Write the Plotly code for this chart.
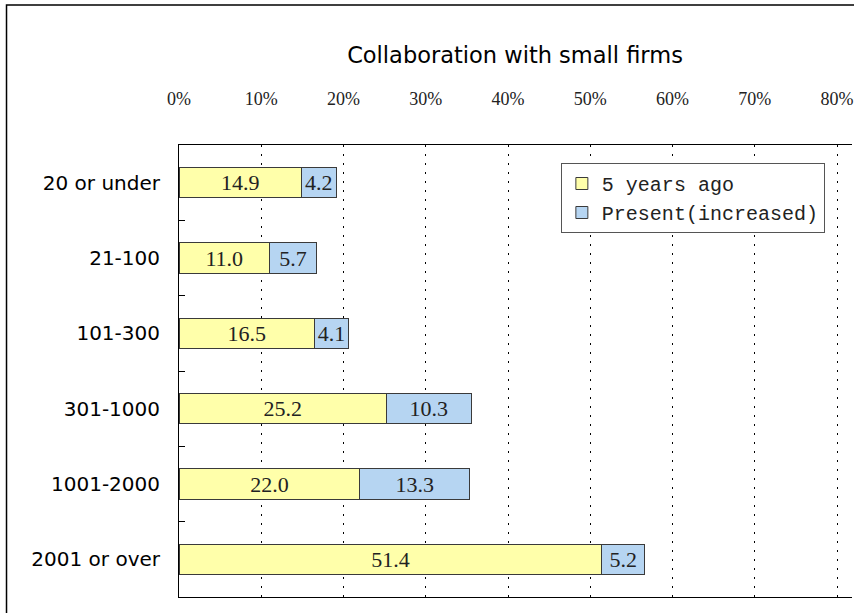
import plotly.graph_objects as go

categories = ["20 or under", "21-100", "101-300", "301-1000", "1001-2000", "2001 or over"]
five_years_ago = [14.9, 11.0, 16.5, 25.2, 22.0, 51.4]
present_increased = [4.2, 5.7, 4.1, 10.3, 13.3, 5.2]
x_ticks = [0, 10, 20, 30, 40, 50, 60, 70, 80]
x_tick_labels = [f"{v}%" for v in x_ticks]

W, H = 854, 613
L, R, T, B = 179, 0, 145, 16
pw, ph = W - L - R, H - T - B

def px_x(v):
    return (v - L) / pw

def px_y(v):
    return 1 - (v - T) / ph

fig = go.Figure()
fig.add_trace(go.Bar(
    y=categories, x=five_years_ago, name="5 years ago", orientation="h",
    marker=dict(color="#FFFFAA", line=dict(color="#3a3a3a", width=1)),
    texttemplate="%{x:.1f}", textposition="inside", insidetextanchor="middle",
    constraintext="none",
    textfont=dict(family="Liberation Serif", size=22, color="#222"),
    width=0.4,
))
fig.add_trace(go.Bar(
    y=categories, x=present_increased, name="Present(increased)", orientation="h",
    marker=dict(color="#B6D5F2", line=dict(color="#3a3a3a", width=1)),
    texttemplate="%{x:.1f}", textposition="inside", insidetextanchor="middle",
    constraintext="none",
    textfont=dict(family="Liberation Serif", size=22, color="#222"),
    width=0.4,
))

fig.update_layout(
    barmode="stack",
    width=W, height=H,
    margin=dict(l=L, r=R, t=T, b=B),
    paper_bgcolor="white", plot_bgcolor="white",
    title=dict(text="Collaboration with small firms", x=px_x(516), xref="paper",
               xanchor="center", y=1 - 55 / H, yref="container", yanchor="middle",
               font=dict(family="DejaVu Sans", size=22.5, color="black")),
    legend=dict(x=px_x(562), y=px_y(163), xanchor="left", yanchor="top",
                bgcolor="white", bordercolor="#555", borderwidth=1,
                font=dict(family="Liberation Mono", size=20, color="#222"),
                traceorder="normal", itemwidth=30, tracegroupgap=0),
    uniformtext=dict(mode="show", minsize=22),
    shapes=[dict(type="rect", xref="paper", yref="paper",
                 x0=px_x(6), x1=1.05, y0=px_y(640), y1=px_y(5),
                 line=dict(color="black", width=1.5), layer="below")],
)
fig.update_xaxes(
    side="top", range=[0, (W - L) / 8.25], tickmode="array",
    tickvals=x_ticks, ticktext=x_tick_labels,
    ticks="", ticklabelstandoff=32, ticklabeloverflow="allow",
    tickfont=dict(family="Liberation Serif", size=18, color="#222"),
    showgrid=True, gridcolor="black", gridwidth=1, griddash="2px,7px",
    zeroline=False, showline=True, linecolor="black", linewidth=1, mirror=True,
)
fig.update_yaxes(
    autorange="reversed", ticks="inside", tickson="boundaries", ticklen=6,
    tickcolor="black", ticklabelstandoff=14,
    tickfont=dict(family="DejaVu Sans", size=20, color="black"),
    showgrid=False, zeroline=False, showline=True, linecolor="black", linewidth=1,
)

# drop the page's default body margin so the figure sits at the window's corner
fig.write_html("out.html", config={"displayModeBar": False},
               post_script="document.body.style.margin='0';")
